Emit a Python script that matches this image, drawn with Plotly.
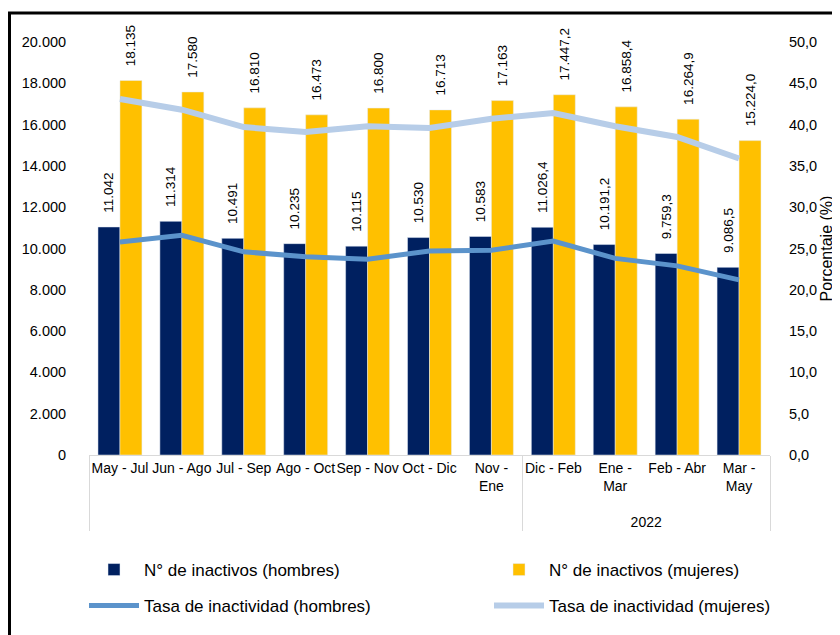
import plotly.graph_objects as go

# periodos moviles (trimestres) y grupo de anio
periodos = ["May - Jul", "Jun - Ago", "Jul - Sep", "Ago - Oct", "Sep - Nov", "Oct - Dic",
            "Nov -<br>Ene", "Dic - Feb", "Ene -<br>Mar", "Feb - Abr", "Mar -<br>May"]
anios = [" "] * 7 + ["2022"] * 4

# N° de inactivos (miles)
inactivos_hombres = [11042, 11314, 10491, 10235, 10115, 10530, 10583, 11026.4, 10191.2, 9759.3, 9086.5]
inactivos_mujeres = [18135, 17580, 16810, 16473, 16800, 16713, 17163, 17447.2, 16858.4, 16264.9, 15224.0]

# tasa de inactividad (%)
tasa_hombres = [25.8, 26.6, 24.6, 24.0, 23.7, 24.7, 24.8, 25.9, 23.8, 22.9, 21.2]
tasa_mujeres = [43.1, 41.8, 39.7, 39.1, 39.8, 39.6, 40.7, 41.4, 39.8, 38.5, 35.9]

OFF = 8  # margen del body en la pagina
W, H = 840, 635
L, R, T, B = 89 - OFF, 78, 42 - OFF, 180 + OFF
FONT = "Liberation Sans, Arial, sans-serif"

# los primeros 7 sin decimales, el resto con uno
pad = "\u00a0\u00a0\u00a0"
fmt = [pad + "%{y:,.0f}"] * 7 + [pad + "%{y:,.1f}"] * 4

# lineas vacias para bajar la fila del anio
x = [anios, [p + "<br> " if "<br>" in p else p + "<br> <br> " for p in periodos]]

fig = go.Figure()

fig.add_trace(go.Bar(
    x=x, y=inactivos_hombres, name="N° de inactivos (hombres)",
    marker_color="#002060", texttemplate=fmt, textposition="outside",
    textangle=-90, cliponaxis=False, constraintext="none", legend="legend",
    showlegend=True, textfont=dict(size=13.5, color="black", family=FONT)))

fig.add_trace(go.Bar(
    x=x, y=inactivos_mujeres, name="N° de inactivos (mujeres)",
    marker_color="#FFC000", texttemplate=fmt, textposition="outside",
    textangle=-90, cliponaxis=False, constraintext="none", legend="legend2",
    showlegend=True, textfont=dict(size=13.5, color="black", family=FONT)))

fig.add_trace(go.Scatter(
    x=x, y=tasa_hombres, name="Tasa de inactividad (hombres)", yaxis="y2",
    mode="lines", line=dict(color="#5B93CB", width=5), legend="legend3"))

fig.add_trace(go.Scatter(
    x=x, y=tasa_mujeres, name="Tasa de inactividad (mujeres)", yaxis="y2",
    mode="lines", line=dict(color="#B7CDE8", width=6), legend="legend4"))

ph = H - T - B
pw = W - L - R


def py(v):
    # v en pixeles de la pagina
    return (H - B - (v - OFF)) / ph


def px_(v):
    return (v - OFF - L) / pw


def leg(xp, yp):
    return dict(
        x=px_(xp), y=py(yp), xanchor="left", yanchor="middle",
        font=dict(size=17), bgcolor="rgba(0,0,0,0)", itemwidth=50)


fig.update_layout(
    width=W, height=H,
    margin=dict(l=L, r=R, t=T, b=B),
    plot_bgcolor="white", paper_bgcolor="white",
    separators=",.", showlegend=True,
    font=dict(family=FONT, size=14, color="black"),
    barmode="group", bargap=0.29, bargroupgap=0,
    xaxis=dict(
        type="multicategory", tickangle=0, showline=True, linecolor="#D9D9D9",
        linewidth=1, showgrid=False, showdividers=True, dividercolor="#D9D9D9",
        dividerwidth=1, tickfont=dict(size=14), automargin=False,
        ticks="outside", ticklen=20, tickcolor="rgba(0,0,0,0)"),
    yaxis=dict(
        range=[0, 20000], dtick=2000, tickformat=",d", showgrid=False,
        zeroline=False, ticks="outside", ticklen=19, tickcolor="rgba(0,0,0,0)",
        tickfont=dict(size=14.5), automargin=False),
    yaxis2=dict(
        overlaying="y", side="right", range=[0, 50], dtick=5, tickformat=".1f",
        showgrid=False, zeroline=False, ticks="outside", ticklen=15,
        tickcolor="rgba(0,0,0,0)", tickfont=dict(size=14.5), automargin=False,
        title=dict(text="Porcentaje (%)", font=dict(size=16), standoff=4)),
    legend=leg(84, 570),
    legend2=leg(489, 570),
    legend3=leg(84, 606),
    legend4=leg(489, 606),
    shapes=[dict(
        type="rect", xref="paper", yref="paper",
        x0=px_(9.5), x1=px_(W + 40), y0=py(H + 40), y1=py(13),
        line=dict(color="black", width=3), fillcolor="rgba(0,0,0,0)", layer="above")],
)

fig.write_html("out.html")
